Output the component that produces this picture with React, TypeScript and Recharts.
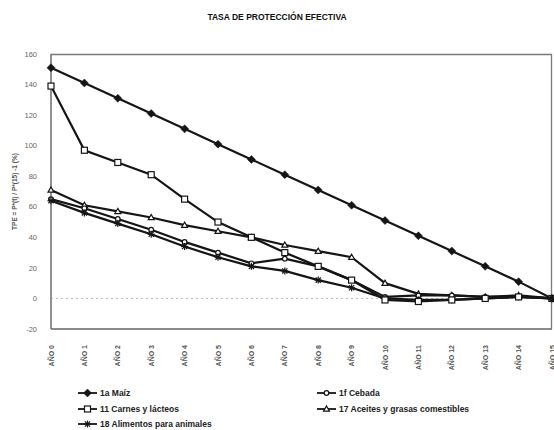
import React from 'react';
import { LineChart, Line, XAxis, YAxis, ReferenceLine, Legend, Label, CartesianGrid } from 'recharts';

const years = ['AÑO 0', 'AÑO 1', 'AÑO 2', 'AÑO 3', 'AÑO 4', 'AÑO 5', 'AÑO 6', 'AÑO 7', 'AÑO 8', 'AÑO 9', 'AÑO 10', 'AÑO 11', 'AÑO 12', 'AÑO 13', 'AÑO 14', 'AÑO 15'];
const maiz = [151, 141, 131, 121, 111, 101, 91, 81, 71, 61, 51, 41, 31, 21, 11, 0];
const cebada = [65, 59, 52, 45, 37, 30, 23, 26, 21, 12, 1, 2, 2, 1, 1, 0];
const carnes = [139, 97, 89, 81, 65, 50, 40, 30, 21, 12, -1, -2, -1, 0, 1, 0];
const aceites = [71, 61, 57, 53, 48, 44, 40, 35, 31, 27, 10, 3, 2, 1, 2, 0];
const alimentos = [64, 56, 49, 42, 34, 27, 21, 18, 12, 7, 0, -1, -1, 0, 1, 0];
const yTicks = [-20, 0, 20, 40, 60, 80, 100, 120, 140, 160];

const seriesNames = {
  maiz: '1a Maíz',
  cebada: '1f Cebada',
  carnes: '11 Carnes y lácteos',
  aceites: '17 Aceites y grasas comestibles',
  alimentos: '18 Alimentos para animales',
};

const data = years.map((year, i) => ({
  year,
  maiz: maiz[i],
  cebada: cebada[i],
  carnes: carnes[i],
  aceites: aceites[i],
  alimentos: alimentos[i],
}));

const INK = '#151515';
const FRAME = '#7a7a7a';

function markerPath(kind: string, cx: number, cy: number, keyStr: string) {
  switch (kind) {
    case 'diamond':
      return <path key={keyStr} d={`M${cx},${cy - 4}L${cx + 4},${cy}L${cx},${cy + 4}L${cx - 4},${cy}Z`} fill={INK} stroke={INK} strokeWidth={0.5} />;
    case 'square':
      return <rect key={keyStr} x={cx - 3} y={cy - 3} width={6} height={6} fill="#fff" stroke={INK} strokeWidth={1.2} />;
    case 'circle':
      return <circle key={keyStr} cx={cx} cy={cy} r={2.3} fill="#fff" stroke={INK} strokeWidth={1.2} />;
    case 'triangle':
      return <path key={keyStr} d={`M${cx},${cy - 3}L${cx + 3},${cy + 2.2}L${cx - 3},${cy + 2.2}Z`} fill="#fff" stroke={INK} strokeWidth={1.2} />;
    case 'star':
    default:
      return (
        <g key={keyStr} stroke={INK} strokeWidth={1.2}>
          <line x1={cx - 3.5} y1={cy} x2={cx + 3.5} y2={cy} />
          <line x1={cx} y1={cy - 3.5} x2={cx} y2={cy + 3.5} />
          <line x1={cx - 2.6} y1={cy - 2.6} x2={cx + 2.6} y2={cy + 2.6} />
          <line x1={cx - 2.6} y1={cy + 2.6} x2={cx + 2.6} y2={cy - 2.6} />
        </g>
      );
  }
}

const makeDot = (kind: string) => (p: any) => {
  const k = `${kind}-${p.index}`;
  if (p.cx == null || p.cy == null) return <g key={k} />;
  return markerPath(kind, p.cx, p.cy, k);
};

const XTick = (p: any) => {
  const { x, y, payload } = p;
  return (
    <text
      x={x + 2.5}
      y={y + 8}
      transform={`rotate(-90 ${x + 2.5} ${y + 8})`}
      textAnchor="end"
      fontSize={7}
      fontWeight="bold"
      fill="#555"
      fontFamily="Liberation Sans, Arial, sans-serif"
    >
      {payload.value}
    </text>
  );
};

const legendLayout = [
  { key: 'maiz', kind: 'diamond', left: 78, top: 393 },
  { key: 'cebada', kind: 'circle', left: 317, top: 393 },
  { key: 'carnes', kind: 'square', left: 78, top: 409 },
  { key: 'aceites', kind: 'triangle', left: 317, top: 409 },
  { key: 'alimentos', kind: 'star', left: 78, top: 424 },
];

const LegendContent = () => (
  <div style={{ position: 'relative', width: 554, height: 45 }}>
    {legendLayout.map((it) => (
      <div
        key={it.key}
        style={{
          position: 'absolute',
          left: it.left,
          top: it.top - 385 - 6,
          height: 12,
          display: 'flex',
          alignItems: 'center',
          whiteSpace: 'nowrap',
        }}
      >
        <svg width={19} height={10} style={{ display: 'block' }}>
          <line x1={0} y1={5} x2={19} y2={5} stroke={INK} strokeWidth={1.8} />
          {markerPath(it.kind, 9.5, 5, it.key)}
        </svg>
        <span
          style={{
            marginLeft: 3,
            fontSize: 8.5,
            fontWeight: 'bold',
            color: '#222',
            fontFamily: 'Liberation Sans, Arial, sans-serif',
          }}
        >
          {(seriesNames as any)[it.key]}
        </span>
      </div>
    ))}
  </div>
);

export default function App() {
  return (
    <div
      style={{
        position: 'absolute',
        left: 0,
        top: 0,
        width: 554,
        height: 430,
        background: '#fff',
        fontFamily: 'Liberation Sans, Arial, sans-serif',
      }}
    >
      <div
        style={{
          position: 'absolute',
          left: 0,
          top: 12,
          width: 554,
          textAlign: 'center',
          fontSize: 8.5,
          fontWeight: 'bold',
          color: '#111',
          zIndex: 2,
        }}
      >
        TASA DE PROTECCIÓN EFECTIVA
      </div>
      <LineChart width={554} height={430} data={data} margin={{ top: 54, right: 2, bottom: 56, left: 11 }}>
        <CartesianGrid
          stroke={FRAME}
          strokeWidth={1.3}
          horizontalCoordinatesGenerator={(args: any) => [args.offset.top + 0.5, args.offset.top + args.offset.height]}
          verticalCoordinatesGenerator={(args: any) => [args.offset.left, args.offset.left + args.offset.width - 0.5]}
        />
        <XAxis
          dataKey="year"
          interval={0}
          tick={<XTick />}
          tickLine={false}
          axisLine={{ stroke: FRAME }}
          height={45}
          padding={{ left: 0, right: 0 }}
        />
        <YAxis
          domain={[-20, 160]}
          ticks={yTicks}
          interval={0}
          width={40}
          tickLine={false}
          axisLine={{ stroke: FRAME }}
          tick={{ fontSize: 7.5, fill: '#666' }}
          tickMargin={8}
        >
          <Label
            value="TPE = P*(t) / P*(15) -1 (%)"
            angle={-90}
            position="insideLeft"
            offset={4}
            style={{ textAnchor: 'middle', fontSize: 6.5, fill: '#555', fontWeight: 'bold' }}
          />
        </YAxis>
        <ReferenceLine y={0} stroke="#bbb" strokeDasharray="2 3" />
        <Line dataKey="aceites" name={seriesNames.aceites} stroke={INK} strokeWidth={2.2} dot={makeDot('triangle')} activeDot={false} isAnimationActive={false} />
        <Line dataKey="cebada" name={seriesNames.cebada} stroke={INK} strokeWidth={2.2} dot={makeDot('circle')} activeDot={false} isAnimationActive={false} />
        <Line dataKey="alimentos" name={seriesNames.alimentos} stroke={INK} strokeWidth={2.2} dot={makeDot('star')} activeDot={false} isAnimationActive={false} />
        <Line dataKey="carnes" name={seriesNames.carnes} stroke={INK} strokeWidth={2.2} dot={makeDot('square')} activeDot={false} isAnimationActive={false} />
        <Line dataKey="maiz" name={seriesNames.maiz} stroke={INK} strokeWidth={2.2} dot={makeDot('diamond')} activeDot={false} isAnimationActive={false} />
        <Legend
          layout="horizontal"
          verticalAlign="middle"
          align="center"
          content={<LegendContent />}
          wrapperStyle={{ top: 385, left: 0, width: 554, height: 45 }}
        />
      </LineChart>
    </div>
  );
}
